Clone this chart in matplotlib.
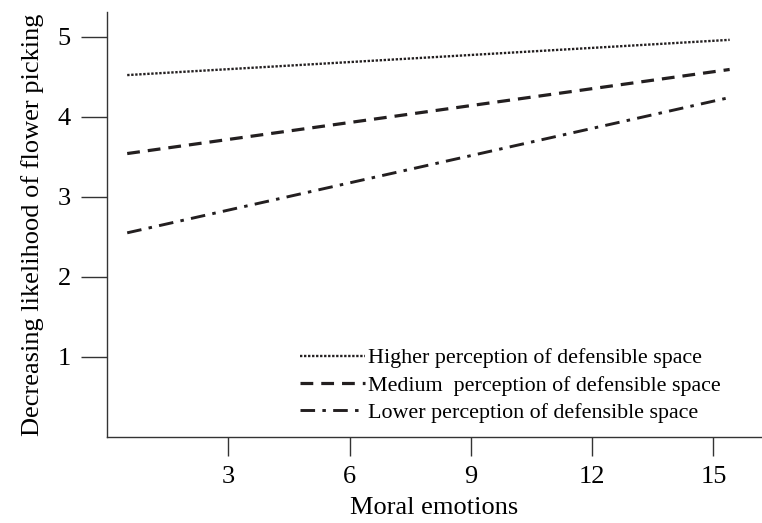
import matplotlib
matplotlib.use('Agg')
import matplotlib.pyplot as plt

plt.rcParams['font.family'] = ['Liberation Serif', 'DejaVu Serif']

#data
x_ends = [0.5, 15.4]
higher = [4.52, 4.96]
medium = [3.54, 4.59]
lower = [2.55, 4.24]
labels = ['Higher perception of defensible space',
          'Medium  perception of defensible space',
          'Lower perception of defensible space']
xticks = [3, 6, 9, 12, 15]
yticks = [1, 2, 3, 4, 5]

fig = plt.figure(figsize=(7.62, 5.23), dpi=100)
ax = fig.add_axes([0.1404, 0.1644, 0.8596, 0.813])
col = '#231f20'
ax.plot(x_ends, higher, color=col, lw=1.7, linestyle=(0, (1, 0.7)), label=labels[0])
ax.plot(x_ends, medium, color=col, lw=2.3, linestyle=(0, (4, 2.5)), label=labels[1])
ax.plot(x_ends, lower, color=col, lw=2.1, linestyle=(0, (5, 2.5, 1.2, 2.5)), label=labels[2])

ax.set_xlim(0, 16.2)
ax.set_ylim(0, 5.31)
ax.set_xticks(xticks)
ax.set_yticks(yticks)
ax.spines['top'].set_visible(False)
ax.spines['right'].set_visible(False)
for s in ['left', 'bottom']:
    ax.spines[s].set_color('#333333')
    ax.spines[s].set_linewidth(1.0)
ax.tick_params(axis='y', length=19, width=1.0, color='#333333', pad=7, labelsize=19)
ax.tick_params(axis='x', length=14, width=1.0, color='#333333', pad=7, labelsize=19)
ax.set_xlabel('Moral emotions', fontsize=19, labelpad=6)
ax.set_ylabel('Decreasing likelihood of flower picking', fontsize=19, labelpad=10)

leg = ax.legend(loc='lower left', bbox_to_anchor=(0.281, 0.012), frameon=False,
                fontsize=15.8, handlelength=2.95, handletextpad=0.15, labelspacing=0.32,
                borderaxespad=0)

fig.savefig('out.png', dpi=100)
